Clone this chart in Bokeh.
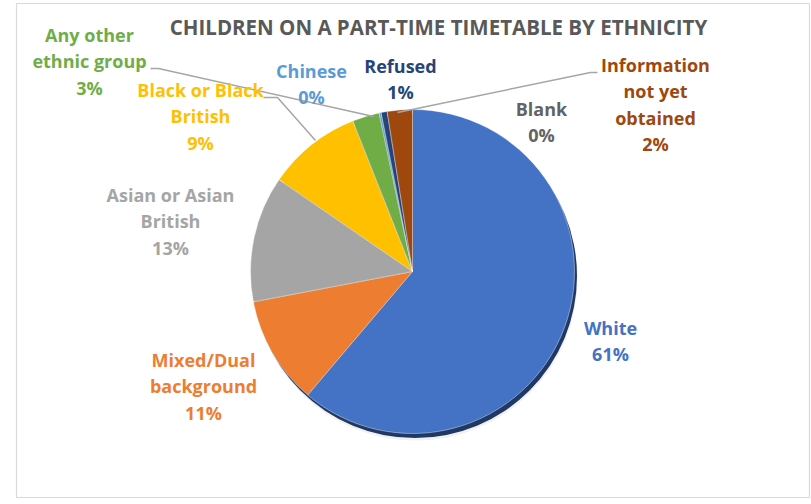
import math
from bokeh.plotting import figure
from bokeh.models import ColumnDataSource, Range1d
from bokeh.embed import file_html
from bokeh.resources import INLINE
from bokeh.core.properties import value

# ---- data ----
categories = ["White", "Mixed/Dual background", "Asian or Asian British",
              "Black or Black British", "Any other ethnic group", "Chinese",
              "Refused", "Information not yet obtained", "Blank"]
shares = [61.2, 10.8, 12.6, 9.4, 2.7, 0.2, 0.6, 2.5, 0.0]
label_lines = [["White"], ["Mixed/Dual", "background"], ["Asian or Asian", "British"],
               ["Black or Black", "British"], ["Any other", "ethnic group"], ["Chinese"],
               ["Refused"], ["Information", "not yet", "obtained"], ["Blank"]]
title_text = "CHILDREN ON A PART-TIME TIMETABLE BY ETHNICITY"

# ---- styles / positions ----
slice_colors = ["#4472C4", "#ED7D31", "#A5A5A5", "#FFC000", "#70AD47",
                "#5B9BD5", "#264478", "#9E480E", "#636363"]
text_colors = ["#4472C4", "#ED7D31", "#A5A5A5", "#FFC000", "#70AD47",
               "#5B9BD5", "#264478", "#9E480E", "#636363"]
# label block: (center x, first line y) in page pixels
label_pos = [(610, 327), (203, 359), (170, 194), (200, 89), (89, 34),
             (311, 70), (400, 65), (655, 64), (541, 108)]
line_gap = 26.5

W, H = 811, 504
FONT = "Open Sans"


def px(X):
    return X


def py(Y):
    return H - Y


p = figure(width=W, height=H, output_backend="svg", toolbar_location=None,
           x_range=Range1d(0, W), y_range=Range1d(0, H), min_border=0)
p.axis.visible = False
p.grid.visible = False
p.outline_line_color = None
p.background_fill_color = "white"
p.border_fill_color = "white"

# chart frame
p.line([px(16), px(16), px(809), px(809), px(16)],
       [py(3), py(497), py(497), py(3), py(3)],
       line_color="#D9D9D9", line_width=1.2)

# pie
cx, cy, r = px(412), py(271), 162
total = sum(shares)
wx, wy, ws, we, wc = [], [], [], [], []
cum = 0.0
for s, col in zip(shares, slice_colors):
    a0 = math.pi / 2 - 2 * math.pi * cum / total
    cum += s
    a1 = math.pi / 2 - 2 * math.pi * cum / total
    if s > 0:
        wx.append(cx)
        wy.append(cy)
        ws.append(a0)
        we.append(a1)
        wc.append(col)

# soft shadow + dark rim
p.circle(x=[cx + 3], y=[cy - 7], radius=r, radius_units="screen",
         fill_color="#E8E8E8", line_color=None, fill_alpha=0.6)
p.circle(x=[cx + 2.5], y=[cy - 4.5], radius=r, radius_units="screen",
         fill_color="#1F3864", line_color=None)
src = ColumnDataSource(dict(x=wx, y=wy, start=ws, end=we, color=wc))
p.wedge(x="x", y="y", radius=r, radius_units="screen", start_angle="start",
        end_angle="end", direction="clock", fill_color="color",
        line_color="white", line_alpha=0.5, line_width=0.8, source=src)

# leader lines
leaders = [
    [(150, 68), (158, 68), (373, 116)],
    [(263, 97), (277, 97), (315, 140)],
    [(597, 72), (590, 72), (397, 112)],
]
for pts in leaders:
    p.line([px(a) for a, b in pts], [py(b) for a, b in pts],
           line_color="#A6A6A6", line_width=1.5)

# labels
tx, ty, tt, tc = [], [], [], []
for lines, s, (lx, ly), col in zip(label_lines, shares, label_pos, text_colors):
    all_lines = lines + [f"{round(s)}%"]
    for i, ln in enumerate(all_lines):
        tx.append(px(lx))
        ty.append(py(ly + i * line_gap))
        tt.append(ln)
        tc.append(col)
p.text(x=tx, y=ty, text=tt, text_color=tc, text_font=value(FONT),
       text_font_style="bold", text_font_size="18px",
       text_align="center", text_baseline="middle")

# title
p.text(x=[px(438)], y=[py(26)], text=[title_text], text_color="#595959",
       text_font=value(FONT), text_font_style="bold", text_font_size="20.5px",
       text_align="center", text_baseline="middle")

open("out.html", "w").write(file_html(p, INLINE))
